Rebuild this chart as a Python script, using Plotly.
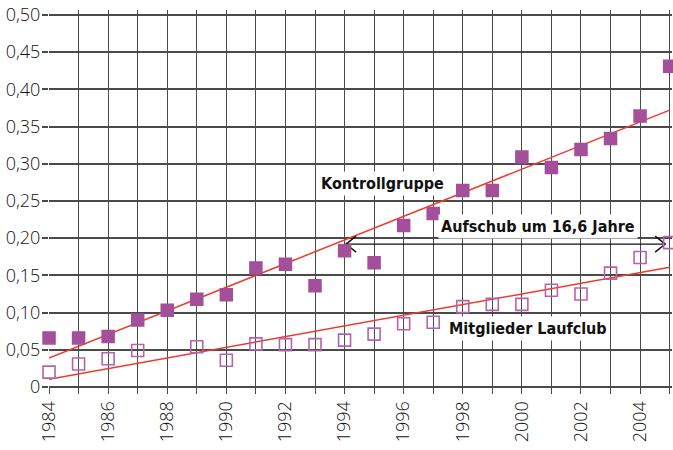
import plotly.graph_objects as go

years = list(range(1984, 2006))
kontroll = [0.066, 0.066, 0.068, 0.090, 0.103, 0.118, 0.124, 0.160, 0.165, 0.136,
            0.183, 0.167, 0.217, 0.233, 0.264, 0.264, 0.309, 0.295, 0.319, 0.334,
            0.364, 0.431]
laufclub = [0.020, 0.031, 0.038, 0.049, None, 0.054, 0.036, 0.058, 0.057, 0.057,
            0.063, 0.071, 0.085, 0.087, 0.108, 0.111, 0.111, 0.130, 0.125, 0.153,
            0.174, 0.194]
trend_years = [1984, 2005]
trend_kontroll = [0.039, 0.372]
trend_laufclub = [0.0103, 0.161]

arrow_x = [1994.05, 2004.85]
arrow_y = 0.192
arrow_label = "Aufschub um 16,6 Jahre"

y_ticks = [0, 0.05, 0.10, 0.15, 0.20, 0.25, 0.30, 0.35, 0.40, 0.45, 0.50]
y_ticktext = ["0", "0,05", "0,10", "0,15", "0,20", "0,25", "0,30", "0,35", "0,40", "0,45", "0,50"]
x_ticktext = [str(y) if y % 2 == 0 else "" for y in years]

purple = "#a44f99"
purple_open = "#b563ad"
red = "#ee3a2c"
gridc = "#4a4a4a"

fig = go.Figure()
fig.add_trace(go.Scatter(x=trend_years, y=trend_kontroll, mode="lines",
                         line=dict(color=red, width=1.5), hoverinfo="skip"))
fig.add_trace(go.Scatter(x=trend_years, y=trend_laufclub, mode="lines",
                         line=dict(color=red, width=1.5), hoverinfo="skip"))

# double arrow
cw, ch = 0.34, 0.0108
fig.add_trace(go.Scatter(x=arrow_x, y=[arrow_y, arrow_y], mode="lines",
                         line=dict(color="#111", width=1.4), hoverinfo="skip"))
fig.add_trace(go.Scatter(x=[arrow_x[0] + cw, arrow_x[0], arrow_x[0] + cw],
                         y=[arrow_y + ch, arrow_y, arrow_y - ch], mode="lines",
                         line=dict(color="#111", width=1.4), hoverinfo="skip"))
fig.add_trace(go.Scatter(x=[arrow_x[1] - cw, arrow_x[1], arrow_x[1] - cw],
                         y=[arrow_y + ch, arrow_y, arrow_y - ch], mode="lines",
                         line=dict(color="#111", width=1.4), hoverinfo="skip"))

fig.add_trace(go.Scatter(x=years, y=kontroll, mode="markers", cliponaxis=False,
                         marker=dict(symbol="square", size=12, color=purple,
                                     line=dict(color=purple, width=1.5))))
fig.add_trace(go.Scatter(x=years, y=laufclub, mode="markers", cliponaxis=False,
                         marker=dict(symbol="square-open", size=12, color=purple_open,
                                     line=dict(color=purple_open, width=1.6))))

label_font = dict(family="Liberation Sans Narrow, DejaVu Sans Condensed, sans-serif",
                  size=16, color="#111", weight="bold")
fig.add_annotation(x=1995.3, y=0.273, text="Kontrollgruppe", showarrow=False,
                   font=label_font, bgcolor="white", borderpad=2)
fig.add_annotation(x=2000.55, y=0.216, text=arrow_label, showarrow=False,
                   font=label_font, bgcolor="white", borderpad=2)
fig.add_annotation(x=2000.2, y=0.079, text="Mitglieder Laufclub", showarrow=False,
                   font=label_font, bgcolor="white", borderpad=2)

tick_font = dict(family="Open Sans, sans-serif", size=18, color="#111", weight=300)
fig.update_layout(
    width=673, height=450,
    margin=dict(l=49, r=1, t=10, b=63),
    paper_bgcolor="white", plot_bgcolor="white",
    showlegend=False,
    xaxis=dict(range=[1983.999, 2005.08], tickvals=years, ticktext=x_ticktext,
               tickangle=-90, showgrid=True, gridcolor=gridc, gridwidth=1.4,
               ticks="outside", ticklen=6, tickcolor=gridc, tickwidth=1.4,
               zeroline=False, showline=False, tickfont=tick_font, automargin=False),
    yaxis=dict(range=[0, 0.5066], tickvals=y_ticks, ticktext=y_ticktext,
               showgrid=True, gridcolor=gridc, gridwidth=1.6,
               ticks="outside", ticklen=6, tickcolor=gridc, tickwidth=1.6,
               zeroline=True, zerolinecolor=gridc, zerolinewidth=1.6,
               showline=False, tickfont=tick_font, automargin=False,
               ticklabelstandoff=-2),
)
fig.write_html("out.html", config={"displayModeBar": False},
               post_script="document.body.style.margin='0';")
